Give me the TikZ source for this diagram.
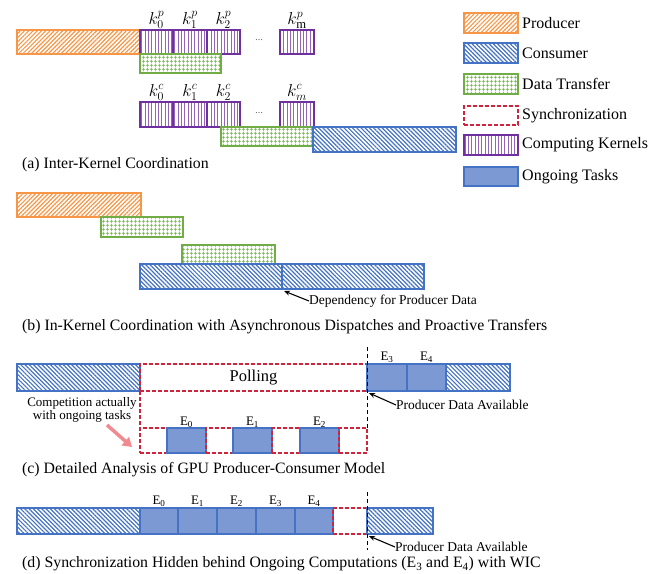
\documentclass[tikz,border=0pt]{standalone}
\usepackage{fontspec}
\setmainfont{Liberation Serif}
\usetikzlibrary{patterns.meta,arrows.meta}
\definecolor{cprod}{HTML}{F79646}
\definecolor{ccons}{HTML}{4472C4}
\definecolor{cgreen}{HTML}{70AD47}
\definecolor{cpurp}{HTML}{7030A0}
\definecolor{csync}{HTML}{D0233C}
\definecolor{cpink}{HTML}{F08A90}
\definecolor{congo}{HTML}{8FA6DA}
\newcommand{\mybox}[6]{\node[#2,minimum width={(#5-#3)*1pt},minimum height={(#6-#4)*1pt}] (#1) at ({(#3+#5)/2},{(#4+#6)/2}) {};}
\newcommand{\fs}[1]{\fontsize{#1}{#1}\selectfont}
\tikzset{
 bxbase/.style={inner sep=0pt, outer sep=0pt, line width=1.3pt},
 prod/.style={bxbase, draw=cprod, pattern={Lines[angle=45,distance=3pt,line width=1.2pt]}, pattern color=cprod},
 cons/.style={bxbase, draw=ccons, pattern={Lines[angle=-45,distance=3pt,line width=1.2pt]}, pattern color=ccons},
 xfer/.style={bxbase, draw=cgreen, pattern={Hatch[angle=0,distance=4pt,line width=0.9pt]}, pattern color=cgreen},
 kern/.style={bxbase, draw=cpurp, pattern={Lines[angle=90,distance=3.3pt,line width=1pt]}, pattern color=cpurp!75},
 sync/.style={bxbase, draw=csync, dash pattern=on 4pt off 2pt},
 ongo/.style={bxbase, draw=ccons, preaction={fill=congo}, pattern={Dots[distance=2pt,radius=0.6pt]}, pattern color=ccons},
 klbl/.style={anchor=south, inner sep=1.5pt, font=\fs{18}},
 elbl/.style={anchor=south, inner sep=1pt, font=\fs{13}},
 legtxt/.style={anchor=west, inner sep=0pt, font=\fs{16}},
 captxt/.style={anchor=west, inner sep=0pt, font=\fs{15.8}},
 notetxt/.style={anchor=west, inner sep=0pt, font=\fs{13.5}},
 ellip/.style={font=\fs{8}, inner sep=0pt},
 arr/.style={-{Stealth[length=6pt,width=5pt]}, line width=1.1pt},
 pinkarr/.style={-{Triangle[length=9pt,width=11pt]}, line width=3.5pt, draw=cpink},
 vdash/.style={draw=black, line width=1pt, dash pattern=on 4pt off 3pt},
}
\begin{document}
\begin{tikzpicture}[x=1pt,y=-1pt]
\useasboundingbox (0,0) rectangle (663,573);
% ---------- (a)
\mybox{ap}{prod}{17}{30}{140}{54}
\mybox{ak0}{kern}{140}{30}{173}{54}
\mybox{ak1}{kern}{173}{30}{207}{54}
\mybox{ak2}{kern}{207}{30}{240}{54}
\mybox{akm}{kern}{280}{30}{314}{54}
\mybox{ax1}{xfer}{140}{54}{221}{73}
\node[klbl] (lk0) at (ak0.north) {$k_0^p$};
\node[klbl] (lk1) at (ak1.north) {$k_1^p$};
\node[klbl] (lk2) at (ak2.north) {$k_2^p$};
\node[klbl] (lkm) at (akm.north) {$k_{\mathrm{m}}^p$};
\node[ellip] (ad1) at (259,40) {…};
\mybox{bk0}{kern}{140}{102}{173}{127}
\mybox{bk1}{kern}{173}{102}{207}{127}
\mybox{bk2}{kern}{207}{102}{240}{127}
\mybox{bkm}{kern}{280}{102}{314}{127}
\mybox{ax2}{xfer}{221}{127}{313}{146}
\mybox{ac}{cons}{313}{127}{456}{152}
\node[klbl] (mk0) at (bk0.north) {$k_0^c$};
\node[klbl] (mk1) at (bk1.north) {$k_1^c$};
\node[klbl] (mk2) at (bk2.north) {$k_2^c$};
\node[klbl] (mkm) at (bkm.north) {$k_m^c$};
\node[ellip] (ad2) at (259,113) {…};
\node[captxt] (capa) at (22,165) {(a) Inter-Kernel Coordination};
% ---------- legend
\mybox{g1}{prod}{464}{13}{518}{33}
\mybox{g2}{cons}{464}{43}{518}{63}
\mybox{g3}{xfer}{464}{74}{518}{94}
\mybox{g4}{sync}{464}{106}{518}{125}
\mybox{g5}{kern}{464}{135}{518}{155}
\mybox{g6}{ongo}{464}{167}{518}{186}
\node[legtxt] (t1) at ([xshift=4pt]g1.east) {Producer};
\node[legtxt] (t2) at ([xshift=4pt]g2.east) {Consumer};
\node[legtxt] (t3) at ([xshift=4pt]g3.east) {Data Transfer};
\node[legtxt] (t4) at ([xshift=4pt]g4.east) {Synchronization};
\node[legtxt] (t5) at ([xshift=4pt]g5.east) {Computing Kernels};
\node[legtxt] (t6) at ([xshift=4pt]g6.east) {Ongoing Tasks};
% ---------- (b)
\mybox{bp}{prod}{17}{193}{141}{217}
\mybox{bx1}{xfer}{101}{217}{183}{237}
\mybox{bx2}{xfer}{182}{245}{275}{264}
\mybox{bc1}{cons}{140}{264}{282}{289}
\mybox{bc2}{cons}{282}{264}{424}{289}
\node[notetxt] (bdep) at (309,301) {Dependency for Producer Data};
\draw[arr] (bdep.west) -- ([shift={(2,2)}]bc1.south east);
\node[captxt] (capb) at (22,327) {(b) In-Kernel Coordination with Asynchronous Dispatches and Proactive Transfers};
% ---------- (c)
\mybox{cc1}{cons}{17}{364}{140}{391}
\mybox{cpoll}{sync}{140}{364}{367}{391}
\node[font=\fs{16.5}] (tpoll) at (cpoll.center) {Polling};
\mybox{ce3}{ongo}{367}{364}{407}{391}
\mybox{ce4}{ongo}{407}{364}{446}{391}
\mybox{cc2}{cons}{446}{364}{510}{391}
\node[elbl] (le3) at (ce3.north) {E\textsubscript{3}};
\node[elbl] (le4) at (ce4.north) {E\textsubscript{4}};
\mybox{cs0}{sync}{140}{428}{167}{453}
\mybox{ce0}{ongo}{167}{428}{206}{453}
\mybox{cs1}{sync}{206}{428}{233}{453}
\mybox{ce1}{ongo}{233}{428}{272}{453}
\mybox{cs2}{sync}{272}{428}{300}{453}
\mybox{ce2}{ongo}{300}{428}{339}{453}
\mybox{cs3}{sync}{339}{428}{367}{453}
\node[elbl,inner sep=0.5pt] (le0) at (ce0.north) {E\textsubscript{0}};
\node[elbl,inner sep=0.5pt] (le1) at (ce1.north) {E\textsubscript{1}};
\node[elbl,inner sep=0.5pt] (le2) at (ce2.north) {E\textsubscript{2}};
\draw[sync] (cpoll.south west) -- (cs0.north west);
\coordinate (ctop) at (367,347);
\draw[vdash] (ctop) -- (cs3.north east);
\node[notetxt] (pca) at (396,405) {Producer Data Available};
\draw[arr] (pca.west) -- ([shift={(2,2)}]cpoll.south east);
\node[font=\fs{13}, align=center, inner sep=0pt] (comp) at (82,410) {\fontsize{13}{10.5}\selectfont Competition actually\\with ongoing tasks};
\coordinate (pk) at (107,425);
\draw[pinkarr] (pk) -- ([shift={(-8,-6)}]cs0.south west);
\node[captxt] (capc) at (22,470) {(c) Detailed Analysis of GPU Producer-Consumer Model};
% ---------- (d)
\mybox{dc1}{cons}{17}{508}{140}{534}
\mybox{de0}{ongo}{140}{508}{178}{534}
\mybox{de1}{ongo}{178}{508}{217}{534}
\mybox{de2}{ongo}{217}{508}{256}{534}
\mybox{de3}{ongo}{256}{508}{295}{534}
\mybox{de4}{ongo}{295}{508}{333}{534}
\mybox{dsy}{sync}{333}{508}{367}{534}
\mybox{dc2}{cons}{367}{508}{433}{534}
\node[elbl] (me0) at (de0.north) {E\textsubscript{0}};
\node[elbl] (me1) at (de1.north) {E\textsubscript{1}};
\node[elbl] (me2) at (de2.north) {E\textsubscript{2}};
\node[elbl] (me3) at (de3.north) {E\textsubscript{3}};
\node[elbl] (me4) at (de4.north) {E\textsubscript{4}};
\coordinate (dtop) at (367,492);
\coordinate (dbot) at (367,550);
\draw[vdash] (dtop) -- (dbot);
\node[notetxt] (pda) at (395,547) {Producer Data Available};
\draw[arr] (pda.west) -- ([shift={(2,2)}]dsy.south east);
\node[captxt] (capd) at (22,564) {(d) Synchronization Hidden behind Ongoing Computations (E\textsubscript{3} and E\textsubscript{4}) with WIC};
\end{tikzpicture}
\end{document}
